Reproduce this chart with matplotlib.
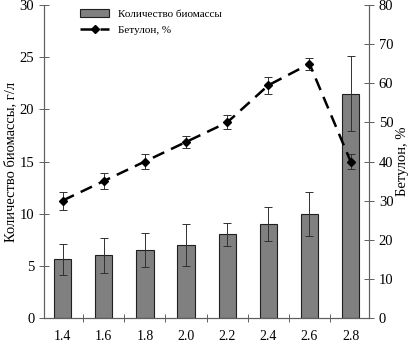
import numpy as np
import matplotlib
matplotlib.use("Agg")
import matplotlib.pyplot as plt

# ── data ───────────────────────────────────────────────────────
categories   = ["1.4", "1.6", "1.8", "2.0", "2.2", "2.4", "2.6", "2.8"]
biomass      = [5.6, 6.0, 6.5, 7.0, 8.0, 9.0, 10.0, 21.5]
biomass_err  = [1.5, 1.7, 1.6, 2.0, 1.1, 1.6, 2.1, 3.6]
betulon      = [30.0, 35.0, 40.0, 45.0, 50.0, 59.5, 65.0, 40.0]
betulon_err  = [2.3, 2.0, 2.0, 1.5, 1.8, 2.2, 1.6, 1.8]

plt.rcParams["font.family"] = ["Liberation Serif", "DejaVu Serif"]

fig = plt.figure(figsize=(4.12, 3.44), dpi=100)
ax = fig.add_axes([0.107, 0.076, 0.789, 0.909])
ax2 = ax.twinx()

x = np.arange(len(categories))
ax.bar(x, biomass, width=0.42, color="#808080", edgecolor="#202020",
       linewidth=0.8, label="Количество биомассы", zorder=2)
ax.errorbar(x, biomass, yerr=biomass_err, fmt="none", ecolor="#303030",
            elinewidth=0.7, capsize=3, capthick=0.7, zorder=3)

ax2.errorbar(x, betulon, yerr=betulon_err, fmt="none", ecolor="#303030",
             elinewidth=0.7, capsize=3, capthick=0.7, zorder=3)
ax2.plot(x, betulon, color="black", linestyle=(0, (5, 3)), linewidth=1.8,
         marker="D", markersize=4.5, label="Бетулон, %", zorder=4)

ax.set_xlim(-0.45, len(categories) - 0.55)
ax.set_ylim(0, 30)
ax2.set_ylim(0, 80)
ax.set_yticks(range(0, 31, 5))
ax2.set_yticks(range(0, 81, 10))

ax.set_xticks(x)
ax.set_xticklabels(categories)
ax.set_xticks(x[:-1] + 0.5, minor=True)
ax.tick_params(axis="x", which="major", length=0, pad=9, labelsize=10)
ax.tick_params(axis="x", which="minor", direction="inout", length=6, width=0.7, color="#606060")
ax.tick_params(axis="y", direction="inout", length=7, width=0.7, color="#606060", labelsize=10.5)
ax2.tick_params(axis="y", direction="inout", length=7, width=0.7, color="#606060", labelsize=10.5)

for a in (ax, ax2):
    a.spines["top"].set_visible(False)
    for sp in ("left", "right", "bottom"):
        a.spines[sp].set_color("#606060")
        a.spines[sp].set_linewidth(0.8)

ax.set_ylabel("Количество биомассы, г/л", fontsize=10.5, labelpad=2)
ax2.set_ylabel("Бетулон, %", fontsize=10.5, labelpad=2)

h1, l1 = ax.get_legend_handles_labels()
h2, l2 = ax2.get_legend_handles_labels()
ax2.legend(h1 + h2, l1 + l2, loc="upper left", bbox_to_anchor=(0.08, 1.02),
           frameon=False, fontsize=8, handlelength=2.6, labelspacing=0.6)

fig.savefig("out.png", dpi=100)
